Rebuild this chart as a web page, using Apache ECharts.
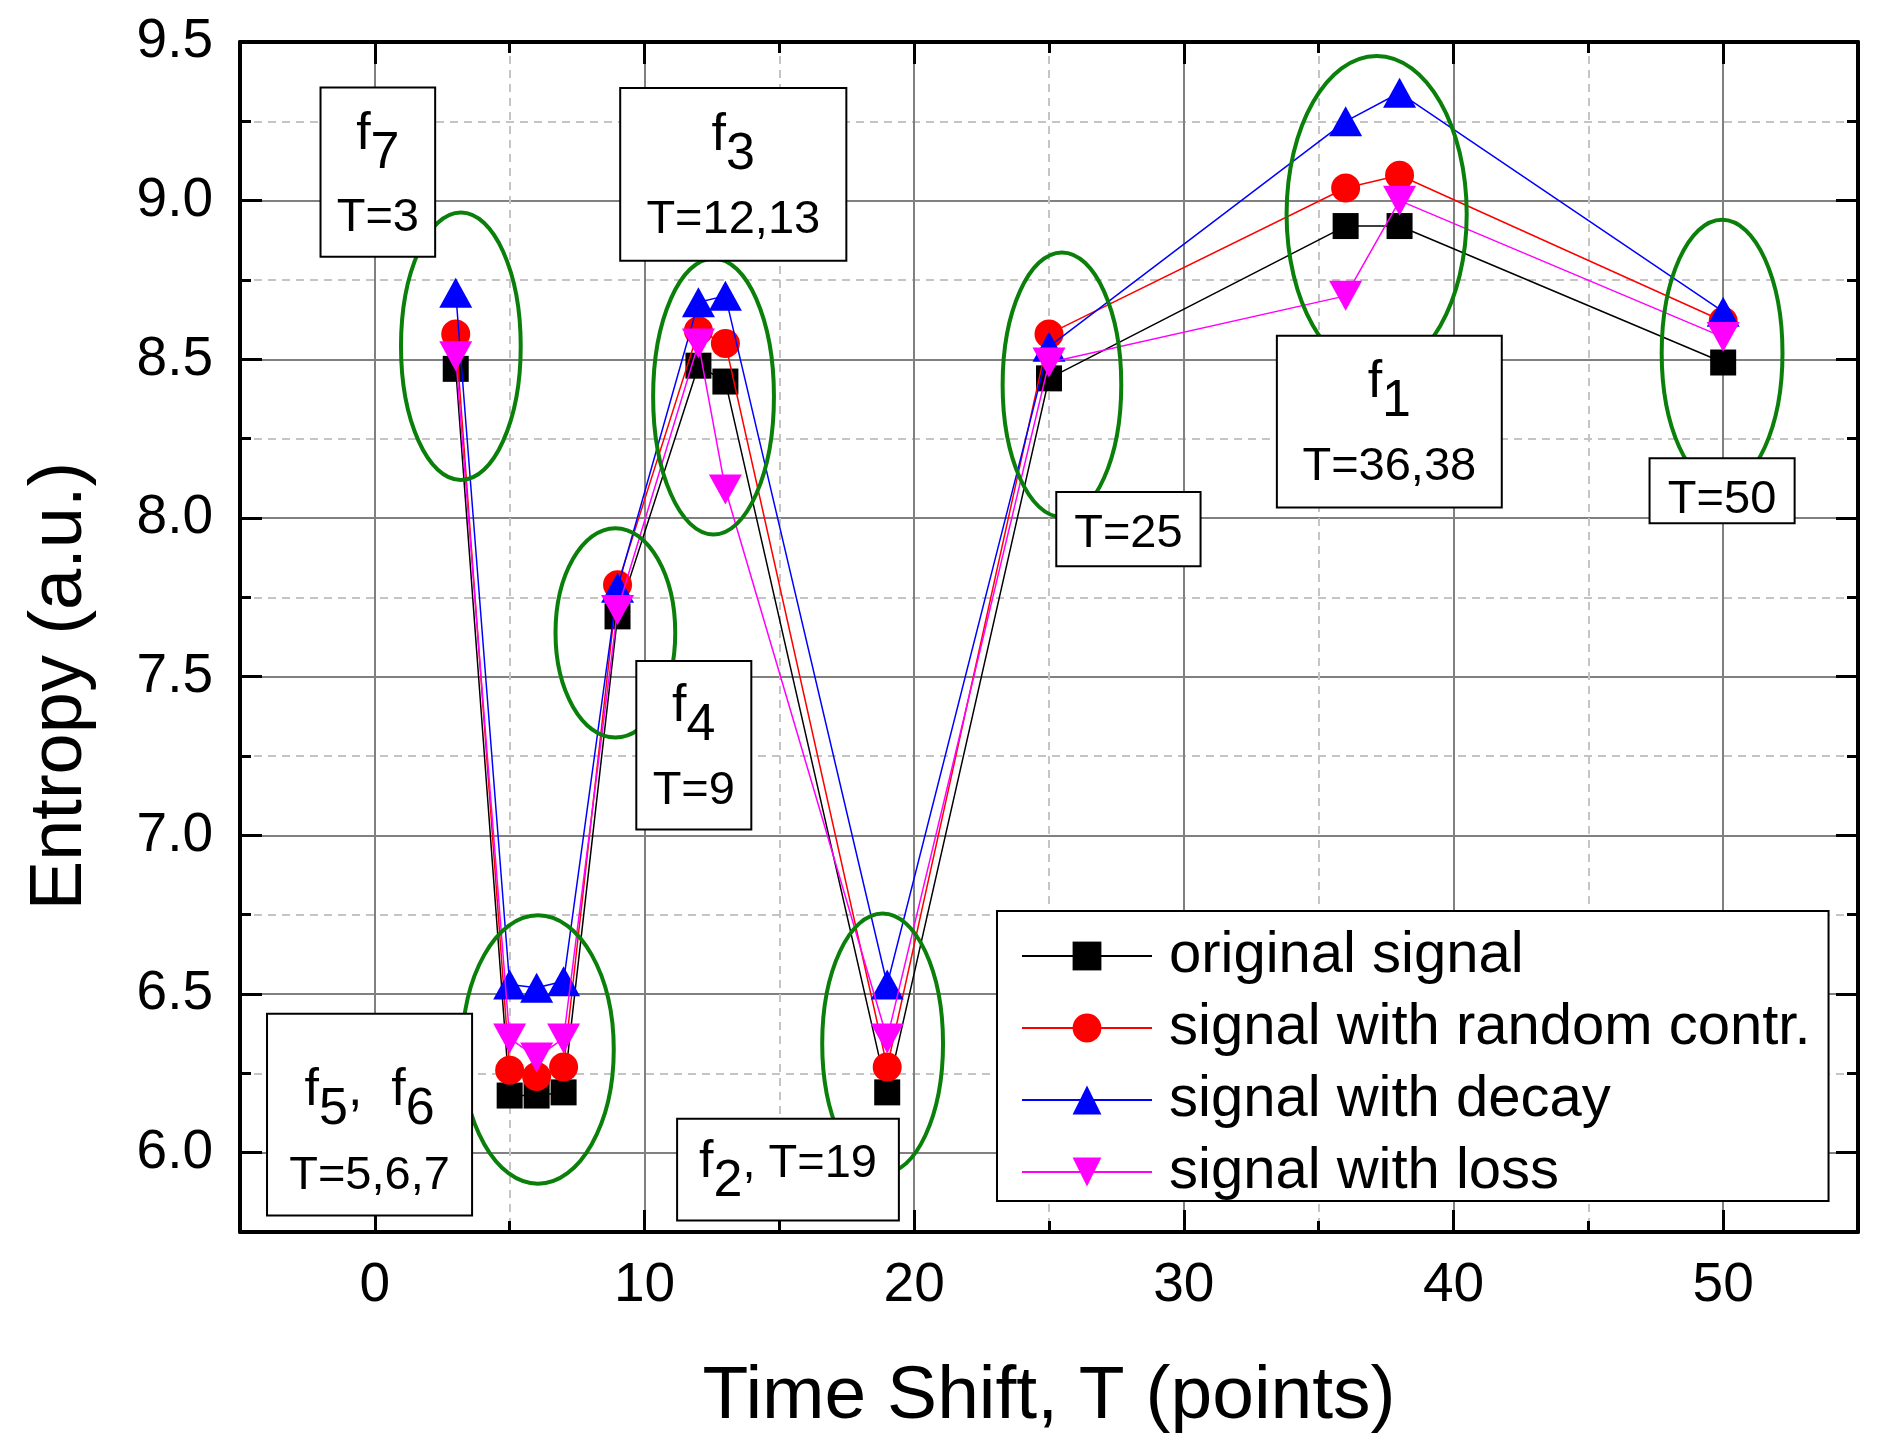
<!DOCTYPE html>
<html>
<head>
<meta charset="utf-8">
<script src="https://cdn.jsdelivr.net/npm/echarts@6/dist/echarts.min.js"></script>
<style>
html,body{margin:0;padding:0;background:#fff;}
#chart{width:1884px;height:1448px;}
</style>
</head>
<body>
<div id="chart"></div>
<script>
// ---------------- data ----------------
const timeShift = [3, 5, 6, 7, 9, 12, 13, 19, 25, 36, 38, 50];
const originalSignal = [8.47, 6.18, 6.18, 6.19, 7.69, 8.48, 8.43, 6.19, 8.44, 8.92, 8.92, 8.49];
const randomContr    = [8.58, 6.26, 6.24, 6.27, 7.79, 8.59, 8.55, 6.27, 8.58, 9.04, 9.08, 8.62];
const withDecay      = [8.71, 6.53, 6.52, 6.54, 7.78, 8.68, 8.70, 6.53, 8.54, 9.25, 9.34, 8.65];
const withLoss       = [8.51, 6.36, 6.30, 6.36, 7.71, 8.55, 8.09, 6.36, 8.49, 8.70, 9.00, 8.57];
const seriesNames = ['original signal', 'signal with random contr.', 'signal with decay', 'signal with loss'];
const xTickLabels = ['0', '10', '20', '30', '40', '50'];
const yTickLabels = ['6.0', '6.5', '7.0', '7.5', '8.0', '8.5', '9.0', '9.5'];

// annotation content (anchored in data coordinates)
const annotationEllipses = [
  {cx: 3.19,  cy: 8.541, rx: 2.22, ry: 0.4215},
  {cx: 6.05,  cy: 6.325, rx: 2.81, ry: 0.423},
  {cx: 8.92,  cy: 7.638, rx: 2.22, ry: 0.33},
  {cx: 12.56, cy: 8.383, rx: 2.24, ry: 0.435},
  {cx: 18.83, cy: 6.344, rx: 2.24, ry: 0.41},
  {cx: 25.48, cy: 8.42,  rx: 2.2,  ry: 0.417},
  {cx: 37.15, cy: 8.958, rx: 3.34, ry: 0.498},
  {cx: 49.96, cy: 8.52,  rx: 2.24, ry: 0.42}
];
const annotationBoxes = [
  {x0: -2.014, y0: 9.357, x1: 2.237,  y1: 8.823, head: '{f|f}{s|7}', line2: 'T=3', fBase: 64, tBase: 144},
  {x0: 9.099,  y0: 9.355, x1: 17.485, y1: 8.811, head: '{f|f}{s|3}', line2: 'T=12,13', fBase: 64, tBase: 145},
  {x0: 9.696,  y0: 7.5495,x1: 13.961, y1: 7.018, head: '{f|f}{s|4}', line2: 'T=9', fBase: 62, tBase: 143},
  {x0: -3.998, y0: 6.438, x1: 3.606,  y1: 5.802, head: '{f|f}{s|5}{f|,  f}{s|6}', line2: 'T=5,6,7', fBase: 93, tBase: 175},
  {x0: 11.209, y0: 6.107, x1: 19.433, y1: 5.786, head: '{f|f}{s|2}{t|, T=19}', line2: null, fBase: 60, tBase: 0},
  {x0: 25.27,  y0: 8.082, x1: 30.62,  y1: 7.848, head: null, line2: 'T=25', fBase: 0, tBase: 55},
  {x0: 33.45,  y0: 8.574, x1: 41.79,  y1: 8.033, head: '{f|f}{s|1}', line2: 'T=36,38', fBase: 63, tBase: 144},
  {x0: 47.27,  y0: 8.188, x1: 52.65,  y1: 7.9836, head: null, line2: 'T=50', fBase: 0, tBase: 55}
];

// ---------------- style ----------------
const FONT = '"Liberation Sans", Arial, Helvetica, sans-serif';
const GREEN = '#0a7f0a';
const seriesColors = ['#000000', '#ff0000', '#0000ff', '#ff00ff'];
const seriesSymbols = ['rect', 'circle', 'triangle', 'path://M0,0 L10,0 L5,9 Z'];
const seriesSymbolSizes = [26, 29, [33, 30], [33, 30]];
const seriesValues = [originalSignal, randomContr, withDecay, withLoss];

const chart = echarts.init(document.getElementById('chart'), null, {renderer: 'canvas'});

function makeXAxis(pos, main) {
  return {
    type: 'value', position: pos, min: -5, max: 55, minInterval: 10, maxInterval: 10,
    name: main ? 'Time Shift, T (points)' : '',
    nameLocation: 'middle', nameGap: 128,
    nameTextStyle: {fontSize: 75, fontFamily: FONT, color: '#000'},
    axisLine: {show: true, onZero: false, lineStyle: {color: '#000', width: 4}},
    axisTick: {show: true, inside: true, length: 22, lineStyle: {color: '#000', width: 3}},
    minorTick: {show: true, splitNumber: 2, length: 11, lineStyle: {color: '#000', width: 3}},
    axisLabel: {
      show: main, margin: 26, fontSize: 55, fontFamily: FONT, color: '#000',
      showMinLabel: false, showMaxLabel: false,
      formatter: v => { const s = String(Math.round(v)); return xTickLabels.indexOf(s) >= 0 ? s : ''; }
    },
    splitLine: {show: main, lineStyle: {color: '#808080', width: 2}},
    minorSplitLine: {show: main, lineStyle: {color: '#c4c4c4', width: 2, type: [8, 6]}}
  };
}
function makeYAxis(pos, main) {
  return {
    type: 'value', position: pos, min: 5.75, max: 9.5, minInterval: 0.5, maxInterval: 0.5,
    name: main ? 'Entropy (a.u.)' : '',
    nameLocation: 'middle', nameGap: 142,
    nameTextStyle: {fontSize: 74, fontFamily: FONT, color: '#000', padding: [0, 98, 0, 0]},
    axisLine: {show: true, onZero: false, lineStyle: {color: '#000', width: 4}},
    axisTick: {show: true, inside: true, length: 22, lineStyle: {color: '#000', width: 3}},
    minorTick: {show: true, splitNumber: 2, length: 11, lineStyle: {color: '#000', width: 3}},
    axisLabel: {
      show: main, margin: 27, fontSize: 55, fontFamily: FONT, color: '#000',
      showMinLabel: false, showMaxLabel: true,
      formatter: v => { const s = v.toFixed(1); return yTickLabels.indexOf(s) >= 0 ? s : ''; }
    },
    splitLine: {show: main, lineStyle: {color: '#808080', width: 2}},
    minorSplitLine: {show: main, lineStyle: {color: '#c4c4c4', width: 2, type: [8, 6]}}
  };
}

const option = {
  animation: false,
  backgroundColor: '#ffffff',
  grid: {left: 240, right: 26, top: 42, bottom: 216, containLabel: false},
  xAxis: [makeXAxis('bottom', true), makeXAxis('top', false)],
  yAxis: [makeYAxis('left', true), makeYAxis('right', false)],
  legend: {
    orient: 'vertical', left: 997, top: 911,
    padding: [16, 18, 0, 24],
    itemGap: 14, itemWidth: 130, itemHeight: 36,
    backgroundColor: '#ffffff', borderColor: '#000', borderWidth: 2,
    textStyle: {fontSize: 58, fontFamily: FONT, color: '#000', lineHeight: 58, padding: [0, 0, 0, 12]},
    data: seriesNames, z: 20, selectedMode: false
  },
  series: seriesNames.map((name, k) => ({
    name: name, type: 'line', xAxisIndex: 0, yAxisIndex: 0,
    data: timeShift.map((t, i) => [t, seriesValues[k][i]]),
    symbol: seriesSymbols[k], symbolSize: seriesSymbolSizes[k],
    showSymbol: true,
    itemStyle: {color: seriesColors[k]},
    lineStyle: {color: seriesColors[k], width: 1.5},
    emphasis: {disabled: true},
    z: 2 + k
  }))
};
chart.setOption(option);

function buildAnnotations() {
  const px = p => chart.convertToPixel({gridIndex: 0}, p);
  const rich = {
    f: {fontSize: 52, fontFamily: FONT, lineHeight: 52, padding: [0, 0, 19, 0], fill: '#000'},
    s: {fontSize: 52, fontFamily: FONT, lineHeight: 52, padding: [19, 0, 0, 0], fill: '#000'},
    t: {fontSize: 47, fontFamily: FONT, lineHeight: 52, padding: [2, 0, 17, 0], fill: '#000'}
  };
  const els = [];
  annotationEllipses.forEach(e => {
    const c = px([e.cx, e.cy]);
    const rxp = px([e.cx + e.rx, e.cy])[0] - c[0];
    const ryp = c[1] - px([e.cx, e.cy + e.ry])[1];
    els.push({type: 'ellipse', silent: true, z: 10,
      shape: {cx: c[0], cy: c[1], rx: rxp, ry: ryp},
      style: {fill: null, stroke: GREEN, lineWidth: 4}});
  });
  annotationBoxes.forEach(b => {
    const p0 = px([b.x0, b.y0]), p1 = px([b.x1, b.y1]);
    const x = p0[0], y = p0[1], w = p1[0] - p0[0], h = p1[1] - p0[1];
    els.push({type: 'rect', silent: true, z: 11,
      shape: {x: x, y: y, width: w, height: h},
      style: {fill: '#fff', stroke: '#000', lineWidth: 2}});
    const cx = x + w / 2;
    if (b.head) {
      els.push({type: 'text', silent: true, z: 12, x: cx, y: y + b.fBase - 33,
        style: {text: b.head, rich: rich, align: 'center', verticalAlign: 'top',
                fontSize: 52, fontFamily: FONT, fill: '#000'}});
    }
    if (b.line2) {
      els.push({type: 'text', silent: true, z: 12, x: cx, y: y + b.tBase - 13,
        style: {text: b.line2, align: 'center', verticalAlign: 'middle',
                fontSize: 47, fontFamily: FONT, fill: '#000'}});
    }
  });
  chart.setOption({graphic: {elements: els}});
}
buildAnnotations();
</script>
</body>
</html>
